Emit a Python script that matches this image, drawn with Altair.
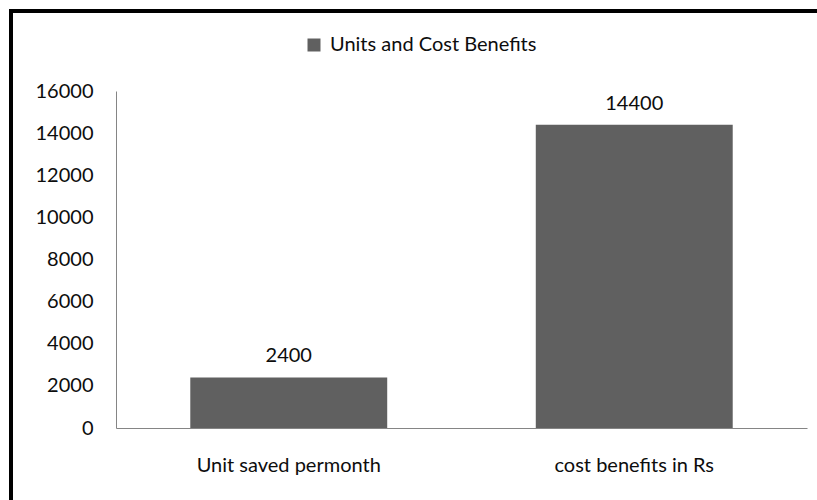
import altair as alt
import pandas as pd

categories = ["Unit saved permonth", "cost benefits in Rs"]
values = [2400, 14400]
series_name = "Units and Cost Benefits"
y_ticks = [0, 2000, 4000, 6000, 8000, 10000, 12000, 14000, 16000]

df = pd.DataFrame({
    "category": categories,
    "value": values,
    "series": [series_name] * len(categories),
})

FONT = "Lato"
BAR = "#606060"
TXT = "#0d0d0d"

x_enc = alt.X(
    "category:N",
    sort=categories,
    scale=alt.Scale(paddingInner=0.43, paddingOuter=0.215),
    axis=alt.Axis(
        title=None, labelAngle=0, ticks=False, domainColor="#858585",
        labelFont=FONT, labelFontSize=20, labelColor=TXT, labelPadding=27,
        labelLimit=0,
    ),
)
y_enc = alt.Y(
    "value:Q",
    scale=alt.Scale(domain=[0, 16000], nice=False),
    axis=alt.Axis(
        title=None, values=y_ticks, grid=False, ticks=False, domainColor="#858585",
        labelFont=FONT, labelFontSize=20, labelColor=TXT, labelPadding=23,
        format="d", labelLimit=0,
    ),
)

bars = alt.Chart(df).mark_bar(color=BAR).encode(
    x=x_enc,
    y=y_enc,
    color=alt.Color(
        "series:N",
        scale=alt.Scale(range=[BAR]),
        legend=alt.Legend(
            title=None, orient="none", legendX=188, legendY=-56,
            symbolType="square", symbolSize=169, symbolStrokeWidth=0,
            symbolFillColor=BAR, labelFont=FONT, labelFontSize=20,
            labelColor=TXT, labelOffset=6, padding=0, labelLimit=0,
        ),
    ),
)

labels = alt.Chart(df).mark_text(
    font=FONT, fontSize=20, color=TXT, baseline="alphabetic", dy=-15
).encode(
    x=alt.X("category:N", sort=categories),
    y="value:Q",
    text=alt.Text("value:Q", format="d"),
)

border_df = pd.DataFrame({"k": [0]})
top_border = alt.Chart(border_df).mark_rule(color="black", strokeWidth=4).encode(
    x=alt.value(-107), x2=alt.value(705), y=alt.value(-80)
)
left_border = alt.Chart(border_df).mark_rule(color="black", strokeWidth=4).encode(
    x=alt.value(-105), y=alt.value(-82), y2=alt.value(420)
)

chart = alt.layer(bars, labels, top_border, left_border).properties(
    width=691,
    height=337,
    autosize=alt.AutoSizeParams(type="none"),
    padding={"left": 116, "top": 91, "right": 10, "bottom": 72},
    background="white",
).configure_view(stroke=None)

chart.save("out.html", embed_options={"renderer": "svg", "actions": False})
